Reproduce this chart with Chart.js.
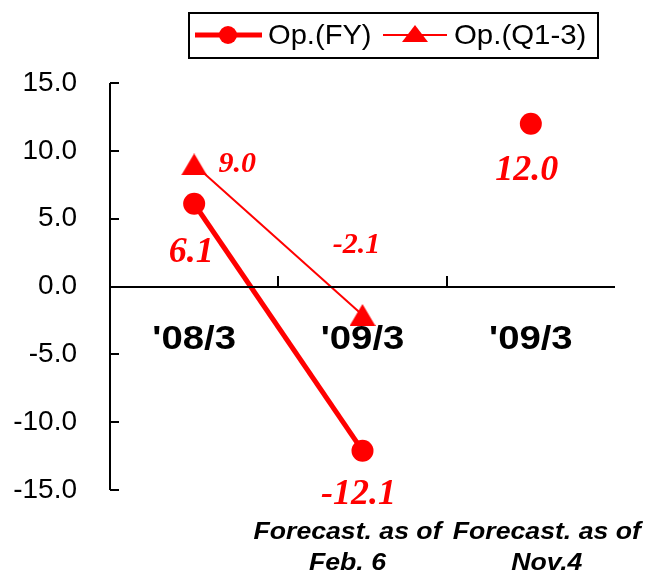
<!DOCTYPE html>
<html>
<head>
<meta charset="utf-8">
<script src="https://cdn.jsdelivr.net/npm/chart.js@4/dist/chart.umd.min.js"></script>
<style>
  html, body { margin: 0; padding: 0; background: #fff; }
  canvas { display: block; }
</style>
</head>
<body>
<canvas id="chart" width="648" height="573"></canvas>
<script>
// Operating income, billions of yen
const categories = ["'08/3", "'09/3", "'09/3"];
const footnotes = [[], ['Forecast. as of', 'Feb. 6'], ['Forecast. as of', 'Nov.4']];
const opFY = [6.1, -12.1, 12.0];
const opQ13 = [9.0, -2.1, null];
const seriesNames = ['Op.(FY)', 'Op.(Q1-3)'];
const yMin = -15, yMax = 15, yStep = 5;

const RED = '#ff0000';
const SANS = '"Liberation Sans", Arial, sans-serif';
const SERIF = '"Liberation Serif", "Times New Roman", serif';

// where each value label sits relative to its point (dx, dy) and its font size
const labelPlacement = [
  { size: 36, offsets: [[-3, 49], [-4, 44], [-4, 47]] },
  { size: 30, offsets: [[43, 0], [-6, -70], [0, 0]] }
];
const footnoteShift = [0, -15, 16];

// triangle marker centred on its bounding box
function triangleMarker(w, h) {
  const c = document.createElement('canvas');
  c.width = w; c.height = h;
  const g = c.getContext('2d');
  g.fillStyle = RED;
  g.beginPath();
  g.moveTo(w / 2, 0); g.lineTo(w, h); g.lineTo(0, h);
  g.closePath(); g.fill();
  return c;
}

// text with a slight horizontal stretch
function wideText(ctx, text, x, y, sx, align) {
  ctx.save();
  ctx.translate(x, y);
  ctx.scale(sx, 1);
  ctx.textAlign = align;
  ctx.fillText(text, 0, 0);
  ctx.restore();
}

const decorations = {
  id: 'decorations',
  afterDatasetsDraw(chart) {
    const { ctx, chartArea: a, scales: { x, y } } = chart;
    ctx.save();
    ctx.strokeStyle = '#000';
    ctx.lineWidth = 2;
    // value axis with inward ticks
    ctx.beginPath();
    ctx.moveTo(a.left, a.top);
    ctx.lineTo(a.left, a.bottom);
    for (let v = yMin; v <= yMax; v += yStep) {
      const py = Math.round(y.getPixelForValue(v));
      ctx.moveTo(a.left, py);
      ctx.lineTo(a.left + 9, py);
    }
    // category axis on zero
    const y0 = Math.round(y.getPixelForValue(0));
    ctx.moveTo(a.left, y0);
    ctx.lineTo(a.right, y0);
    for (let i = 0; i < categories.length - 1; i++) {
      const bx = Math.round((x.getPixelForValue(i) + x.getPixelForValue(i + 1)) / 2);
      ctx.moveTo(bx, y0);
      ctx.lineTo(bx, y0 - 11);
    }
    ctx.stroke();

    // category names
    ctx.fillStyle = '#000';
    ctx.textBaseline = 'middle';
    ctx.font = 'bold 33px ' + SANS;
    categories.forEach((c, i) => wideText(ctx, c, x.getPixelForValue(i), y0 + 53, 1.16, 'center'));

    // footnotes under the chart
    ctx.font = 'bold italic 24px ' + SANS;
    footnotes.forEach((lines, i) => {
      const cx = x.getPixelForValue(i) + footnoteShift[i];
      lines.forEach((t, k) => wideText(ctx, t, cx, a.bottom + 42 + k * 31, 1.11, 'center'));
    });

    // value labels
    ctx.fillStyle = RED;
    ctx.textAlign = 'center';
    chart.data.datasets.forEach((ds, di) => {
      const meta = chart.getDatasetMeta(di);
      const pl = labelPlacement[di];
      ctx.font = 'bold italic ' + pl.size + 'px ' + SERIF;
      ds.data.forEach((v, i) => {
        if (v === null) return;
        const p = meta.data[i];
        ctx.fillText(v.toFixed(1), p.x + pl.offsets[i][0], p.y + pl.offsets[i][1]);
      });
    });

    // legend
    ctx.strokeStyle = '#000';
    ctx.lineWidth = 2;
    ctx.strokeRect(189, 13, 409, 45);
    const ly = 35;
    ctx.strokeStyle = RED;
    ctx.fillStyle = RED;
    ctx.lineWidth = 5;
    ctx.beginPath(); ctx.moveTo(195, ly); ctx.lineTo(262, ly); ctx.stroke();
    ctx.beginPath(); ctx.arc(228, ly, 9, 0, Math.PI * 2); ctx.fill();
    ctx.lineWidth = 2;
    ctx.beginPath(); ctx.moveTo(383, ly); ctx.lineTo(447, ly); ctx.stroke();
    ctx.beginPath();
    ctx.moveTo(415, ly - 10); ctx.lineTo(428, ly + 7); ctx.lineTo(402, ly + 7);
    ctx.closePath(); ctx.fill();
    ctx.fillStyle = '#000';
    ctx.font = '28px ' + SANS;
    wideText(ctx, seriesNames[0], 268, ly + 1, 1.04, 'left');
    wideText(ctx, seriesNames[1], 454, ly + 1, 1.05, 'left');
    ctx.restore();
  }
};

new Chart(document.getElementById('chart'), {
  type: 'line',
  data: {
    labels: categories,
    datasets: [
      {
        label: seriesNames[0],
        data: opFY,
        borderColor: RED,
        backgroundColor: RED,
        borderWidth: 5,
        pointStyle: 'circle',
        pointRadius: 11,
        pointBorderWidth: 0,
        pointBackgroundColor: RED,
        segment: { borderColor: ctx => ctx.p1DataIndex === 2 ? 'rgba(0,0,0,0)' : RED }
      },
      {
        label: seriesNames[1],
        data: opQ13,
        borderColor: RED,
        backgroundColor: RED,
        borderWidth: 2,
        pointStyle: triangleMarker(26, 22),
        pointRadius: 13,
        pointBorderWidth: 0,
        pointBackgroundColor: RED
      }
    ]
  },
  options: {
    responsive: false,
    animation: false,
    devicePixelRatio: 1,
    layout: { padding: { top: 83, bottom: 83, right: 33, left: 0 } },
    plugins: { legend: { display: false }, tooltip: { enabled: false } },
    scales: {
      x: { type: 'category', offset: true, display: false },
      y: {
        min: yMin, max: yMax,
        afterFit(scale) { scale.width = 110; },
        grid: { display: false, drawTicks: false },
        border: { display: false },
        ticks: {
          stepSize: yStep,
          padding: 33,
          color: '#000',
          font: { family: SANS, size: 28 },
          callback: v => Number(v).toFixed(1)
        }
      }
    }
  },
  plugins: [decorations]
});
</script>
</body>
</html>
